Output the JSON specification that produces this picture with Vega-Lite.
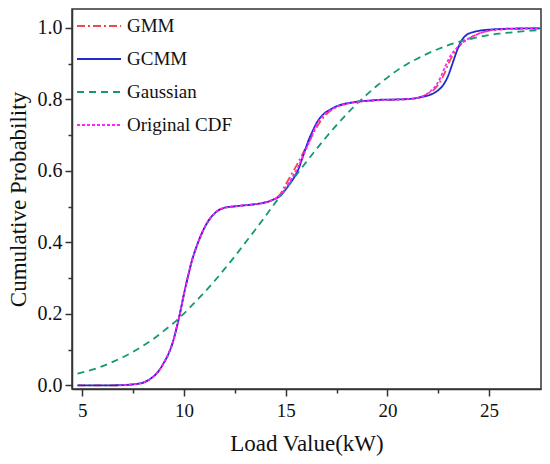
{
  "$schema": "https://vega.github.io/schema/vega-lite/v6.json",
  "width": 469,
  "height": 380,
  "autosize": {"type": "none"},
  "padding": {"left": 72, "top": 9, "right": 9, "bottom": 75},
  "background": "white",
  "config": {
    "view": {"stroke": "#333333", "strokeWidth": 1.5},
    "font": "Liberation Serif",
    "axis": {
      "grid": false,
      "domainColor": "#333333",
      "domainWidth": 1.5,
      "tickColor": "#333333",
      "tickWidth": 1.5,
      "labelFont": "Liberation Serif",
      "labelColor": "#111111",
      "titleFont": "Liberation Serif",
      "titleFontSize": 23,
      "titleFontWeight": "normal",
      "titleColor": "#111111"
    },
    "legend": {
      "orient": "none",
      "legendX": 4,
      "legendY": -6,
      "padding": 0,
      "title": null,
      "symbolType": "stroke",
      "symbolSize": 1936,
      "symbolStrokeWidth": 1.8,
      "labelFont": "Liberation Serif",
      "labelFontSize": 19,
      "labelColor": "#111111",
      "labelOffset": 5,
      "rowPadding": -19
    }
  },
  "data": {
    "values": [
      {"series": "GMM", "load": 4.77, "prob": 0.0},
      {"series": "GMM", "load": 6.0, "prob": 0.0},
      {"series": "GMM", "load": 7.0, "prob": 0.001},
      {"series": "GMM", "load": 7.5, "prob": 0.003},
      {"series": "GMM", "load": 8.0, "prob": 0.008},
      {"series": "GMM", "load": 8.34, "prob": 0.018},
      {"series": "GMM", "load": 8.6, "prob": 0.03},
      {"series": "GMM", "load": 8.83, "prob": 0.046},
      {"series": "GMM", "load": 9.0, "prob": 0.062},
      {"series": "GMM", "load": 9.24, "prob": 0.088},
      {"series": "GMM", "load": 9.45, "prob": 0.12},
      {"series": "GMM", "load": 9.65, "prob": 0.163},
      {"series": "GMM", "load": 9.8, "prob": 0.2},
      {"series": "GMM", "load": 10.0, "prob": 0.255},
      {"series": "GMM", "load": 10.2, "prob": 0.305},
      {"series": "GMM", "load": 10.4, "prob": 0.35},
      {"series": "GMM", "load": 10.6, "prob": 0.385},
      {"series": "GMM", "load": 10.8, "prob": 0.415},
      {"series": "GMM", "load": 11.0, "prob": 0.44},
      {"series": "GMM", "load": 11.2, "prob": 0.46},
      {"series": "GMM", "load": 11.45, "prob": 0.478},
      {"series": "GMM", "load": 11.7, "prob": 0.49},
      {"series": "GMM", "load": 12.0, "prob": 0.497},
      {"series": "GMM", "load": 12.5, "prob": 0.501},
      {"series": "GMM", "load": 13.0, "prob": 0.504},
      {"series": "GMM", "load": 13.5, "prob": 0.507},
      {"series": "GMM", "load": 14.0, "prob": 0.512},
      {"series": "GMM", "load": 14.4, "prob": 0.52},
      {"series": "GMM", "load": 14.73, "prob": 0.535},
      {"series": "GMM", "load": 15.0, "prob": 0.562},
      {"series": "GMM", "load": 15.3, "prob": 0.592},
      {"series": "GMM", "load": 15.6, "prob": 0.622},
      {"series": "GMM", "load": 15.9, "prob": 0.655},
      {"series": "GMM", "load": 16.2, "prob": 0.687},
      {"series": "GMM", "load": 16.5, "prob": 0.72},
      {"series": "GMM", "load": 16.86, "prob": 0.75},
      {"series": "GMM", "load": 17.2, "prob": 0.768},
      {"series": "GMM", "load": 17.6, "prob": 0.781},
      {"series": "GMM", "load": 18.2, "prob": 0.79},
      {"series": "GMM", "load": 19.0, "prob": 0.796},
      {"series": "GMM", "load": 20.0, "prob": 0.799},
      {"series": "GMM", "load": 21.0, "prob": 0.801},
      {"series": "GMM", "load": 21.6, "prob": 0.806},
      {"series": "GMM", "load": 22.0, "prob": 0.817},
      {"series": "GMM", "load": 22.35, "prob": 0.831},
      {"series": "GMM", "load": 22.6, "prob": 0.85},
      {"series": "GMM", "load": 22.8, "prob": 0.872},
      {"series": "GMM", "load": 23.0, "prob": 0.9},
      {"series": "GMM", "load": 23.3, "prob": 0.932},
      {"series": "GMM", "load": 23.6, "prob": 0.953},
      {"series": "GMM", "load": 24.0, "prob": 0.97},
      {"series": "GMM", "load": 24.4, "prob": 0.982},
      {"series": "GMM", "load": 24.8, "prob": 0.99},
      {"series": "GMM", "load": 25.4, "prob": 0.995},
      {"series": "GMM", "load": 26.5, "prob": 0.998},
      {"series": "GMM", "load": 27.5, "prob": 0.999},

      {"series": "GCMM", "load": 4.77, "prob": 0.0},
      {"series": "GCMM", "load": 6.0, "prob": 0.0},
      {"series": "GCMM", "load": 7.0, "prob": 0.001},
      {"series": "GCMM", "load": 7.5, "prob": 0.003},
      {"series": "GCMM", "load": 8.0, "prob": 0.008},
      {"series": "GCMM", "load": 8.34, "prob": 0.018},
      {"series": "GCMM", "load": 8.6, "prob": 0.03},
      {"series": "GCMM", "load": 8.83, "prob": 0.046},
      {"series": "GCMM", "load": 9.0, "prob": 0.062},
      {"series": "GCMM", "load": 9.24, "prob": 0.088},
      {"series": "GCMM", "load": 9.45, "prob": 0.12},
      {"series": "GCMM", "load": 9.65, "prob": 0.163},
      {"series": "GCMM", "load": 9.8, "prob": 0.2},
      {"series": "GCMM", "load": 10.0, "prob": 0.255},
      {"series": "GCMM", "load": 10.2, "prob": 0.305},
      {"series": "GCMM", "load": 10.4, "prob": 0.35},
      {"series": "GCMM", "load": 10.6, "prob": 0.385},
      {"series": "GCMM", "load": 10.8, "prob": 0.415},
      {"series": "GCMM", "load": 11.0, "prob": 0.44},
      {"series": "GCMM", "load": 11.2, "prob": 0.46},
      {"series": "GCMM", "load": 11.45, "prob": 0.478},
      {"series": "GCMM", "load": 11.7, "prob": 0.49},
      {"series": "GCMM", "load": 12.0, "prob": 0.497},
      {"series": "GCMM", "load": 12.5, "prob": 0.501},
      {"series": "GCMM", "load": 13.0, "prob": 0.504},
      {"series": "GCMM", "load": 13.5, "prob": 0.507},
      {"series": "GCMM", "load": 14.0, "prob": 0.512},
      {"series": "GCMM", "load": 14.4, "prob": 0.52},
      {"series": "GCMM", "load": 14.73, "prob": 0.53},
      {"series": "GCMM", "load": 15.0, "prob": 0.548},
      {"series": "GCMM", "load": 15.22, "prob": 0.565},
      {"series": "GCMM", "load": 15.45, "prob": 0.585},
      {"series": "GCMM", "load": 15.63, "prob": 0.605},
      {"series": "GCMM", "load": 15.8, "prob": 0.632},
      {"series": "GCMM", "load": 15.96, "prob": 0.659},
      {"series": "GCMM", "load": 16.12, "prob": 0.685},
      {"series": "GCMM", "load": 16.29, "prob": 0.707},
      {"series": "GCMM", "load": 16.5, "prob": 0.732},
      {"series": "GCMM", "load": 16.7, "prob": 0.749},
      {"series": "GCMM", "load": 16.95, "prob": 0.763},
      {"series": "GCMM", "load": 17.2, "prob": 0.772},
      {"series": "GCMM", "load": 17.5, "prob": 0.781},
      {"series": "GCMM", "load": 17.84, "prob": 0.787},
      {"series": "GCMM", "load": 18.2, "prob": 0.791},
      {"series": "GCMM", "load": 18.66, "prob": 0.795},
      {"series": "GCMM", "load": 19.2, "prob": 0.797},
      {"series": "GCMM", "load": 19.64, "prob": 0.799},
      {"series": "GCMM", "load": 20.5, "prob": 0.8},
      {"series": "GCMM", "load": 21.2, "prob": 0.802},
      {"series": "GCMM", "load": 21.61, "prob": 0.806},
      {"series": "GCMM", "load": 22.0, "prob": 0.811},
      {"series": "GCMM", "load": 22.26, "prob": 0.817},
      {"series": "GCMM", "load": 22.5, "prob": 0.826},
      {"series": "GCMM", "load": 22.75, "prob": 0.841},
      {"series": "GCMM", "load": 23.0, "prob": 0.868},
      {"series": "GCMM", "load": 23.15, "prob": 0.892},
      {"series": "GCMM", "load": 23.33, "prob": 0.922},
      {"series": "GCMM", "load": 23.5, "prob": 0.948},
      {"series": "GCMM", "load": 23.65, "prob": 0.965},
      {"series": "GCMM", "load": 23.9, "prob": 0.981},
      {"series": "GCMM", "load": 24.2, "prob": 0.988},
      {"series": "GCMM", "load": 24.5, "prob": 0.992},
      {"series": "GCMM", "load": 25.2, "prob": 0.996},
      {"series": "GCMM", "load": 26.0, "prob": 0.998},
      {"series": "GCMM", "load": 27.5, "prob": 0.999},

      {"series": "Gaussian", "load": 4.77, "prob": 0.033},
      {"series": "Gaussian", "load": 5.5, "prob": 0.044},
      {"series": "Gaussian", "load": 6.0, "prob": 0.054},
      {"series": "Gaussian", "load": 6.5, "prob": 0.066},
      {"series": "Gaussian", "load": 7.0, "prob": 0.079},
      {"series": "Gaussian", "load": 7.5, "prob": 0.094},
      {"series": "Gaussian", "load": 8.0, "prob": 0.111},
      {"series": "Gaussian", "load": 8.5, "prob": 0.13},
      {"series": "Gaussian", "load": 9.0, "prob": 0.152},
      {"series": "Gaussian", "load": 9.5, "prob": 0.175},
      {"series": "Gaussian", "load": 10.0, "prob": 0.201},
      {"series": "Gaussian", "load": 10.5, "prob": 0.23},
      {"series": "Gaussian", "load": 11.0, "prob": 0.26},
      {"series": "Gaussian", "load": 11.5, "prob": 0.292},
      {"series": "Gaussian", "load": 12.0, "prob": 0.326},
      {"series": "Gaussian", "load": 12.5, "prob": 0.361},
      {"series": "Gaussian", "load": 13.0, "prob": 0.398},
      {"series": "Gaussian", "load": 13.5, "prob": 0.435},
      {"series": "Gaussian", "load": 14.0, "prob": 0.473},
      {"series": "Gaussian", "load": 14.5, "prob": 0.512},
      {"series": "Gaussian", "load": 15.0, "prob": 0.55},
      {"series": "Gaussian", "load": 15.5, "prob": 0.587},
      {"series": "Gaussian", "load": 16.0, "prob": 0.624},
      {"series": "Gaussian", "load": 16.5, "prob": 0.66},
      {"series": "Gaussian", "load": 17.0, "prob": 0.695},
      {"series": "Gaussian", "load": 17.5, "prob": 0.728},
      {"series": "Gaussian", "load": 18.0, "prob": 0.759},
      {"series": "Gaussian", "load": 18.5, "prob": 0.788},
      {"series": "Gaussian", "load": 19.0, "prob": 0.814},
      {"series": "Gaussian", "load": 19.5, "prob": 0.839},
      {"series": "Gaussian", "load": 20.0, "prob": 0.861},
      {"series": "Gaussian", "load": 20.5, "prob": 0.882},
      {"series": "Gaussian", "load": 21.0, "prob": 0.9},
      {"series": "Gaussian", "load": 21.5, "prob": 0.915},
      {"series": "Gaussian", "load": 22.0, "prob": 0.929},
      {"series": "Gaussian", "load": 22.5, "prob": 0.941},
      {"series": "Gaussian", "load": 23.0, "prob": 0.952},
      {"series": "Gaussian", "load": 23.5, "prob": 0.961},
      {"series": "Gaussian", "load": 24.0, "prob": 0.968},
      {"series": "Gaussian", "load": 24.5, "prob": 0.975},
      {"series": "Gaussian", "load": 25.0, "prob": 0.98},
      {"series": "Gaussian", "load": 25.5, "prob": 0.984},
      {"series": "Gaussian", "load": 26.0, "prob": 0.987},
      {"series": "Gaussian", "load": 26.5, "prob": 0.99},
      {"series": "Gaussian", "load": 27.0, "prob": 0.9925},
      {"series": "Gaussian", "load": 27.5, "prob": 0.994},

      {"series": "Original CDF", "load": 6.8, "prob": 0.0},
      {"series": "Original CDF", "load": 7.5, "prob": 0.003},
      {"series": "Original CDF", "load": 8.0, "prob": 0.008},
      {"series": "Original CDF", "load": 8.34, "prob": 0.018},
      {"series": "Original CDF", "load": 8.6, "prob": 0.03},
      {"series": "Original CDF", "load": 8.83, "prob": 0.046},
      {"series": "Original CDF", "load": 9.0, "prob": 0.062},
      {"series": "Original CDF", "load": 9.24, "prob": 0.088},
      {"series": "Original CDF", "load": 9.45, "prob": 0.12},
      {"series": "Original CDF", "load": 9.65, "prob": 0.163},
      {"series": "Original CDF", "load": 9.8, "prob": 0.2},
      {"series": "Original CDF", "load": 10.0, "prob": 0.255},
      {"series": "Original CDF", "load": 10.2, "prob": 0.305},
      {"series": "Original CDF", "load": 10.4, "prob": 0.35},
      {"series": "Original CDF", "load": 10.6, "prob": 0.385},
      {"series": "Original CDF", "load": 10.8, "prob": 0.415},
      {"series": "Original CDF", "load": 11.0, "prob": 0.44},
      {"series": "Original CDF", "load": 11.2, "prob": 0.46},
      {"series": "Original CDF", "load": 11.45, "prob": 0.478},
      {"series": "Original CDF", "load": 11.7, "prob": 0.49},
      {"series": "Original CDF", "load": 12.0, "prob": 0.497},
      {"series": "Original CDF", "load": 12.5, "prob": 0.501},
      {"series": "Original CDF", "load": 13.0, "prob": 0.504},
      {"series": "Original CDF", "load": 13.5, "prob": 0.507},
      {"series": "Original CDF", "load": 14.0, "prob": 0.512},
      {"series": "Original CDF", "load": 14.4, "prob": 0.52},
      {"series": "Original CDF", "load": 14.73, "prob": 0.532},
      {"series": "Original CDF", "load": 15.0, "prob": 0.553},
      {"series": "Original CDF", "load": 15.3, "prob": 0.58},
      {"series": "Original CDF", "load": 15.6, "prob": 0.61},
      {"series": "Original CDF", "load": 15.9, "prob": 0.648},
      {"series": "Original CDF", "load": 16.2, "prob": 0.686},
      {"series": "Original CDF", "load": 16.5, "prob": 0.726},
      {"series": "Original CDF", "load": 16.8, "prob": 0.752},
      {"series": "Original CDF", "load": 17.2, "prob": 0.77},
      {"series": "Original CDF", "load": 17.6, "prob": 0.782},
      {"series": "Original CDF", "load": 18.2, "prob": 0.79},
      {"series": "Original CDF", "load": 19.0, "prob": 0.796},
      {"series": "Original CDF", "load": 20.0, "prob": 0.799},
      {"series": "Original CDF", "load": 21.0, "prob": 0.801},
      {"series": "Original CDF", "load": 21.6, "prob": 0.806},
      {"series": "Original CDF", "load": 22.1, "prob": 0.822},
      {"series": "Original CDF", "load": 22.4, "prob": 0.84},
      {"series": "Original CDF", "load": 22.6, "prob": 0.86},
      {"series": "Original CDF", "load": 22.85, "prob": 0.893},
      {"series": "Original CDF", "load": 23.1, "prob": 0.922},
      {"series": "Original CDF", "load": 23.4, "prob": 0.943},
      {"series": "Original CDF", "load": 23.75, "prob": 0.961},
      {"series": "Original CDF", "load": 24.15, "prob": 0.975},
      {"series": "Original CDF", "load": 24.5, "prob": 0.984},
      {"series": "Original CDF", "load": 24.8, "prob": 0.99},
      {"series": "Original CDF", "load": 25.5, "prob": 0.996},
      {"series": "Original CDF", "load": 26.5, "prob": 0.998},
      {"series": "Original CDF", "load": 27.5, "prob": 0.999}
    ]
  },
  "mark": {"type": "line", "interpolate": "monotone", "strokeWidth": 1.8, "clip": true},
  "encoding": {
    "x": {
      "field": "load",
      "type": "quantitative",
      "title": "Load Value(kW)",
      "scale": {"domain": [4.5, 27.55], "nice": false, "zero": false},
      "axis": {
        "values": [5, 7.5, 10, 12.5, 15, 17.5, 20, 22.5, 25],
        "labelExpr": "datum.value % 5 === 0 ? format(datum.value, 'd') : ''",
        "tickSize": {"condition": {"test": "datum.value % 5 !== 0", "value": 4}, "value": 7},
        "labelFontSize": 19,
        "labelPadding": 5,
        "titlePadding": 12
      }
    },
    "y": {
      "field": "prob",
      "type": "quantitative",
      "title": "Cumulative Probability",
      "scale": {"domain": [-0.01, 1.053], "nice": false, "zero": false},
      "axis": {
        "values": [0, 0.1, 0.2, 0.3, 0.4, 0.5, 0.6, 0.7, 0.8, 0.9, 1.0],
        "labelExpr": "round(datum.value * 10) % 2 === 0 ? format(datum.value, '.1f') : ''",
        "tickSize": {"condition": {"test": "round(datum.value * 10) % 2 !== 0", "value": 4}, "value": 7},
        "labelFontSize": 20,
        "labelPadding": 3,
        "titlePadding": 7
      }
    },
    "color": {
      "field": "series",
      "type": "nominal",
      "sort": null,
      "scale": {
        "domain": ["GMM", "GCMM", "Gaussian", "Original CDF"],
        "range": ["#f2474a", "#1f2bcc", "#139a74", "#ff22ff"]
      }
    },
    "strokeDash": {
      "field": "series",
      "type": "nominal",
      "sort": null,
      "scale": {
        "domain": ["GMM", "GCMM", "Gaussian", "Original CDF"],
        "range": [[8, 3, 2, 3], [1, 0], [7, 5], [3, 2]]
      }
    }
  }
}
